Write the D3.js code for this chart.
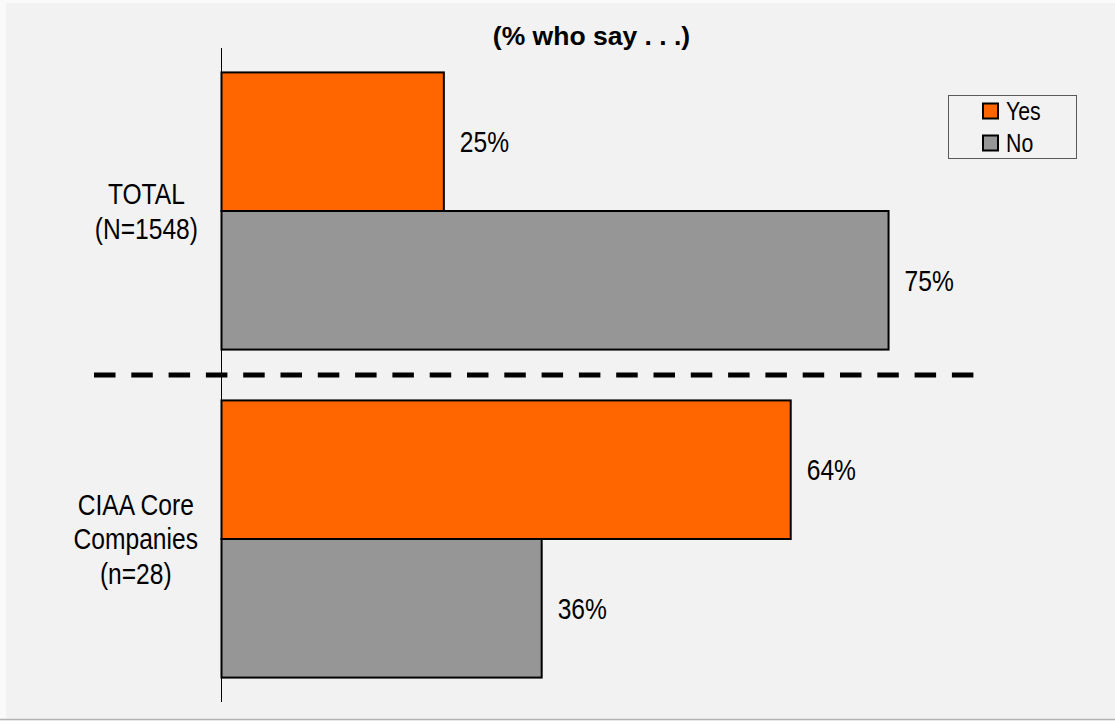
<!DOCTYPE html>
<html>
<head>
<meta charset="utf-8">
<script src="https://cdn.jsdelivr.net/npm/d3@7"></script>
<style>
  html, body { margin: 0; padding: 0; background: #fafafa; }
  svg { display: block; }
</style>
</head>
<body>
<svg id="chart" width="1115" height="721"></svg>
<script>
// ---- data ----
const categories = ["TOTAL\n(N=1548)", "CIAA Core\nCompanies\n(n=28)"];
const seriesNames = ["Yes", "No"];
const yesValues = [25, 64];
const noValues = [75, 36];
const titleText = "(% who say . . .)";

// ---- styles ----
const colors = { Yes: "#ff6600", No: "#969696" };
const sans = "'Liberation Sans', Arial, sans-serif";
const NARROW = 0.82; // horizontal condensing to mimic Arial Narrow

const svg = d3.select("#chart");
const W = 1115, H = 721;

// background
svg.append("rect").attr("x", 6).attr("y", 3).attr("width", W - 6).attr("height", 716).attr("fill", "#f2f2f2");
svg.append("line").attr("x1", 0).attr("x2", W).attr("y1", 719.5).attr("y2", 719.5)
  .attr("stroke", "#b3b3b3").attr("stroke-width", 1.5);

// helper: condensed text
function narrowText(parent, px, py, size, str, anchor) {
  return parent.append("text")
    .attr("transform", `translate(${px},${py}) scale(${NARROW},1)`)
    .attr("font-family", sans)
    .attr("font-size", size)
    .attr("fill", "#000")
    .attr("text-anchor", anchor || "start")
    .text(str);
}

// scales
const x = d3.scaleLinear().domain([0, 100]).range([221.5, 1110.9]);
const y = d3.scaleBand().domain(categories).range([47, 703]).paddingInner(0.155).paddingOuter(0.0775);
const ySub = d3.scaleBand().domain(seriesNames).range([0, y.bandwidth()]);

const rows = categories.map((c, i) => ({ cat: c, values: [
  { key: "Yes", value: yesValues[i] },
  { key: "No", value: noValues[i] }
]}));

// bars
const g = svg.append("g");
const groups = g.selectAll("g.cat").data(rows).join("g")
  .attr("transform", d => `translate(0,${y(d.cat)})`);

groups.selectAll("rect").data(d => d.values).join("rect")
  .attr("x", x(0))
  .attr("y", d => ySub(d.key))
  .attr("width", d => x(d.value) - x(0))
  .attr("height", ySub.bandwidth())
  .attr("fill", d => colors[d.key])
  .attr("stroke", "#000")
  .attr("stroke-width", 2);

groups.each(function(d) {
  const grp = d3.select(this);
  d.values.forEach(v => {
    narrowText(grp, x(v.value) + 16, ySub(v.key) + ySub.bandwidth() / 2 + 10.5, 30, v.value + "%");
  });
});

// axis line (vertical)
svg.append("line")
  .attr("x1", x(0)).attr("x2", x(0))
  .attr("y1", 48).attr("y2", 702)
  .attr("stroke", "#000").attr("stroke-width", 1);

// category labels
const lineH = 35;
categories.forEach(c => {
  const lines = c.split("\n");
  const center = y(c) + y.bandwidth() / 2;
  const firstBase = center + 10.5 - (lines.length - 1) * lineH / 2;
  const t = svg.append("text")
    .attr("font-family", sans)
    .attr("font-size", 30)
    .attr("fill", "#000")
    .attr("text-anchor", "middle");
  const spans = lines.map((l, i) => t.append("tspan").attr("x", 0).attr("y", i * lineH).text(l));
  const maxW = d3.max(spans, s => s.node().getComputedTextLength()) * NARROW;
  const cx = 198 - maxW / 2;
  t.attr("transform", `translate(${cx},${firstBase}) scale(${NARROW},1)`);
});

// dashed separator
const sepY = (y(categories[0]) + y.bandwidth() + y(categories[1])) / 2;
svg.append("line")
  .attr("x1", 94).attr("x2", 974)
  .attr("y1", sepY).attr("y2", sepY)
  .attr("stroke", "#000")
  .attr("stroke-width", 5)
  .attr("stroke-dasharray", "21.5,15.8");

// title
svg.append("text")
  .attr("x", 591.5).attr("y", 45)
  .attr("text-anchor", "middle")
  .attr("font-family", sans)
  .attr("font-weight", "bold")
  .attr("font-size", 26.5)
  .attr("fill", "#000")
  .text(titleText);

// legend
const lg = svg.append("g");
lg.append("rect").attr("x", 948.5).attr("y", 95.5).attr("width", 128).attr("height", 63)
  .attr("fill", "#f2f2f2").attr("stroke", "#595959").attr("stroke-width", 1);
seriesNames.forEach((s, i) => {
  const cy = 111 + i * 32;
  lg.append("rect").attr("x", 983).attr("y", cy - 7.5).attr("width", 15).attr("height", 15)
    .attr("fill", colors[s]).attr("stroke", "#000").attr("stroke-width", 2);
  narrowText(lg, 1006, cy + 9, 26, s);
});
</script>
</body>
</html>
